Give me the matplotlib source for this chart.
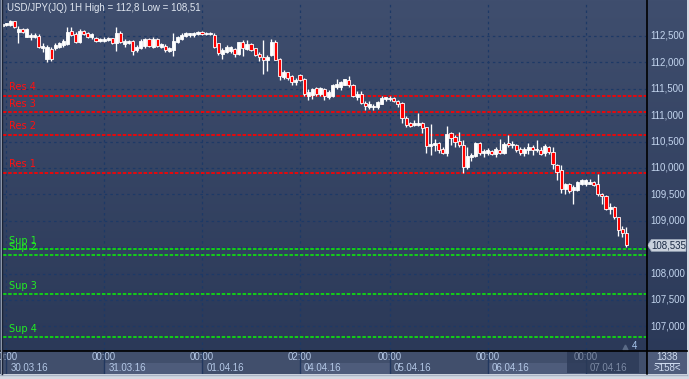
import matplotlib
matplotlib.use("Agg")
import numpy as np
import matplotlib.pyplot as plt
from matplotlib.patches import Rectangle, Polygon

# USD/JPY 1H candles, 29.03.16 23:00 .. 07.04.16 09:00
opens = [112.68, 112.70, 112.70, 112.78, 112.58, 112.63, 112.49, 112.48, 112.49, 112.50,
         112.27, 112.06, 112.25, 112.27, 112.30, 112.33, 112.35, 112.60, 112.53, 112.39,
         112.59, 112.55, 112.48, 112.46, 112.41, 112.41, 112.42, 112.46, 112.36, 112.56,
         112.35, 112.36, 112.40, 112.23, 112.28, 112.31, 112.45, 112.30, 112.45, 112.30,
         112.31, 112.22, 112.23, 112.39, 112.45, 112.50, 112.51, 112.51, 112.53, 112.58,
         112.53, 112.53, 112.52, 112.36, 112.16, 112.20, 112.21, 112.25, 112.15, 112.39,
         112.25, 112.35, 112.27, 112.16, 112.10, 112.05, 112.14, 112.39, 112.07, 111.72,
         111.81, 111.74, 111.63, 111.76, 111.69, 111.37, 111.39, 111.51, 111.41, 111.50,
         111.34, 111.37, 111.53, 111.53, 111.58, 111.66, 111.58, 111.35, 111.40, 111.23,
         111.16, 111.16, 111.15, 111.22, 111.30, 111.30, 111.32, 111.27, 111.23, 110.95,
         110.85, 110.82, 110.82, 110.86, 110.77, 110.41, 110.43, 110.48, 110.36, 110.29,
         110.66, 110.58, 110.52, 110.44, 110.01, 110.20, 110.23, 110.48, 110.29, 110.29,
         110.32, 110.26, 110.35, 110.29, 110.48, 110.43, 110.44, 110.36, 110.29, 110.35,
         110.40, 110.34, 110.34, 110.29, 110.39, 110.31, 110.06, 109.96, 109.61, 109.69,
         109.59, 109.59, 109.70, 109.69, 109.70, 109.73, 109.69, 109.51, 109.47, 109.23,
         109.27, 109.07, 108.85, 108.76]
highs = [112.74, 112.75, 112.80, 112.79, 112.69, 112.65, 112.65, 112.55, 112.56, 112.54,
         112.36, 112.33, 112.30, 112.37, 112.39, 112.44, 112.67, 112.67, 112.58, 112.63,
         112.61, 112.58, 112.56, 112.48, 112.47, 112.48, 112.49, 112.47, 112.67, 112.60,
         112.45, 112.43, 112.42, 112.33, 112.44, 112.46, 112.47, 112.48, 112.47, 112.37,
         112.35, 112.30, 112.55, 112.50, 112.55, 112.58, 112.56, 112.57, 112.59, 112.60,
         112.57, 112.57, 112.55, 112.37, 112.27, 112.33, 112.31, 112.27, 112.39, 112.42,
         112.42, 112.37, 112.28, 112.20, 112.42, 112.14, 112.44, 112.42, 112.09, 111.85,
         111.82, 111.77, 111.70, 111.78, 111.70, 111.50, 111.51, 111.54, 111.54, 111.51,
         111.47, 111.60, 111.68, 111.64, 111.69, 111.74, 111.59, 111.45, 111.46, 111.26,
         111.26, 111.21, 111.26, 111.37, 111.35, 111.36, 111.34, 111.28, 111.25, 110.99,
         110.88, 110.90, 111.04, 110.88, 110.78, 110.83, 110.54, 110.50, 110.40, 110.80,
         110.69, 110.62, 110.68, 110.53, 110.39, 110.29, 110.50, 110.50, 110.36, 110.38,
         110.35, 110.39, 110.55, 110.49, 110.62, 110.52, 110.46, 110.39, 110.39, 110.48,
         110.44, 110.53, 110.39, 110.45, 110.41, 110.40, 110.08, 110.06, 109.72, 109.71,
         109.68, 109.75, 109.80, 109.79, 109.80, 109.75, 109.88, 109.53, 109.49, 109.34,
         109.28, 109.08, 108.91, 108.89]
lows = [112.65, 112.69, 112.68, 112.65, 112.37, 112.56, 112.48, 112.42, 112.46, 112.28,
        112.20, 112.00, 112.03, 112.23, 112.27, 112.30, 112.33, 112.50, 112.37, 112.37,
        112.52, 112.46, 112.44, 112.39, 112.39, 112.39, 112.40, 112.34, 112.22, 112.36,
        112.30, 112.34, 112.14, 112.19, 112.26, 112.28, 112.30, 112.28, 112.30, 112.27,
        112.19, 112.19, 112.12, 112.36, 112.42, 112.48, 112.48, 112.49, 112.51, 112.51,
        112.51, 112.51, 112.27, 112.14, 112.07, 112.18, 112.17, 112.11, 112.14, 112.12,
        112.23, 112.21, 112.12, 112.02, 111.78, 111.83, 112.12, 112.04, 111.66, 111.69,
        111.66, 111.57, 111.57, 111.64, 111.37, 111.28, 111.31, 111.37, 111.37, 111.28,
        111.31, 111.34, 111.50, 111.47, 111.57, 111.53, 111.35, 111.28, 111.21, 111.09,
        111.12, 111.09, 111.12, 111.21, 111.26, 111.26, 111.25, 111.15, 110.86, 110.78,
        110.77, 110.80, 110.80, 110.67, 110.29, 110.25, 110.32, 110.29, 110.26, 110.23,
        110.44, 110.40, 110.40, 109.91, 109.98, 110.13, 110.20, 110.25, 110.20, 110.25,
        110.24, 110.21, 110.26, 110.26, 110.39, 110.38, 110.30, 110.25, 110.23, 110.27,
        110.25, 110.31, 110.25, 110.23, 110.26, 109.98, 109.78, 109.53, 109.51, 109.53,
        109.31, 109.56, 109.68, 109.66, 109.69, 109.66, 109.47, 109.32, 109.21, 109.12,
        109.04, 108.72, 108.70, 108.51]
closes = [112.73, 112.74, 112.79, 112.67, 112.63, 112.58, 112.64, 112.51, 112.52, 112.30,
          112.31, 112.30, 112.06, 112.33, 112.36, 112.40, 112.58, 112.51, 112.39, 112.60,
          112.54, 112.49, 112.54, 112.41, 112.45, 112.45, 112.47, 112.36, 112.56, 112.39,
          112.40, 112.41, 112.22, 112.30, 112.40, 112.44, 112.32, 112.45, 112.32, 112.35,
          112.23, 112.27, 112.40, 112.48, 112.52, 112.55, 112.55, 112.55, 112.58, 112.53,
          112.55, 112.55, 112.30, 112.17, 112.23, 112.29, 112.29, 112.16, 112.38, 112.27,
          112.35, 112.23, 112.14, 112.10, 112.05, 112.11, 112.39, 112.05, 111.74, 111.82,
          111.70, 111.63, 111.67, 111.66, 111.41, 111.44, 111.50, 111.41, 111.51, 111.36,
          111.44, 111.58, 111.59, 111.62, 111.68, 111.57, 111.36, 111.40, 111.23, 111.17,
          111.21, 111.18, 111.25, 111.32, 111.34, 111.32, 111.27, 111.21, 110.95, 110.82,
          110.80, 110.86, 110.86, 110.76, 110.41, 110.46, 110.48, 110.35, 110.29, 110.64,
          110.57, 110.50, 110.43, 110.01, 110.22, 110.24, 110.48, 110.29, 110.32, 110.34,
          110.26, 110.36, 110.29, 110.46, 110.43, 110.46, 110.35, 110.29, 110.36, 110.40,
          110.35, 110.36, 110.27, 110.41, 110.31, 110.07, 109.93, 109.61, 109.69, 109.56,
          109.64, 109.73, 109.78, 109.77, 109.73, 109.68, 109.50, 109.47, 109.23, 109.27,
          109.07, 108.83, 108.76, 108.535]

res_levels = [109.91, 110.63, 111.055, 111.37]
res_names = ["Res 1", "Res 2", "Res 3", "Res 4"]
sup_levels = [108.46, 108.345, 107.605, 106.79]
sup_names = ["Sup 1", "Sup 2", "Sup 3", "Sup 4"]

price_ticks = [107.0, 107.5, 108.0, 108.5, 109.0, 109.5, 110.0, 110.5, 111.0, 111.5, 112.0, 112.5]
tick_labels = ["107,000", "107,500", "108,000", "108,500", "109,000", "109,500",
               "110,000", "110,500", "111,000", "111,500", "112,000", "112,500"]
day_idx = [1, 25, 49, 73, 95, 119, 143]
day_times = ["00:00", "00:00", "00:00", "02:00", "00:00", "00:00", "00:00"]
day_dates = ["30.03.16", "31.03.16", "01.04.16", "04.04.16", "05.04.16", "06.04.16", "07.04.16"]
last_price = 108.535
last_label = "108,535"
header = "USD/JPY(JQ) 1H High = 112,8 Low = 108,51"

W, H = 689, 379
XLIM = (0.22, 157.8)
YLIM = (106.553, 113.125)
SANS = ["Liberation Sans", "DejaVu Sans"]


def box(x0, y0, x1, y1):
    # pixel box (top-left origin) -> figure fraction rect
    return [x0 / W, 1 - y1 / H, (x1 - x0) / W, (y1 - y0) / H]


fig = plt.figure(figsize=(W / 100, H / 100), dpi=100, facecolor="#d3d9e2")

# background gradient for plot + price panel
bg = fig.add_axes(box(0, 0, 687, 374))
grad = np.linspace(0, 1, 256).reshape(-1, 1)
top = np.array([0x3f, 0x4e, 0x6e]) / 255
bot = np.array([0x2a, 0x38, 0x57]) / 255
img = top + (bot - top) * grad[:, :, None]
bg.imshow(img, aspect="auto", extent=(0, 1, 0, 1))
bg.set_axis_off()

ax = fig.add_axes(box(3, 3, 646, 350))
ax.set_facecolor("none")
ax.set_xlim(*XLIM)
ax.set_ylim(*YLIM)
for s in ax.spines.values():
    s.set_visible(False)
ax.set_xticks([])
ax.set_yticks([])

grid_kw = dict(color="#1d3966", lw=0.9, dashes=(2, 2.5), zorder=1)
for p in price_ticks:
    ax.axhline(p, **grid_kw)
for d in day_idx:
    ax.axvline(d, **grid_kw)

for lvl, name in zip(res_levels, res_names):
    ax.axhline(lvl, color="#ff0000", lw=1.25, dashes=(2, 1), zorder=2)
    ax.annotate(name, (1.7, lvl), xytext=(0, 6.2), textcoords="offset points",
                va="center", ha="left", color="#ff1010", fontsize=7, family="DejaVu Sans")
for lvl, name in zip(sup_levels, sup_names):
    ax.axhline(lvl, color="#10e010", lw=1.25, dashes=(2, 1), zorder=2)
    ax.annotate(name, (1.7, lvl), xytext=(0, 6.2), textcoords="offset points",
                va="center", ha="left", color="#22ee22", fontsize=7, family="DejaVu Sans")

# candles
for i, (o, h, l, c) in enumerate(zip(opens, highs, lows, closes)):
    ax.vlines(i, l, h, color="white", lw=0.95, zorder=3)
    lo, hi = min(o, c), max(o, c)
    face = "white" if c >= o else "#ff0000"
    ax.add_patch(Rectangle((i - 0.38, lo), 0.76, max(hi - lo, 0.015),
                           facecolor=face, edgecolor="white", lw=0.6, zorder=4))

ax.text(4 / 643, 1 - 5 / 347, header, transform=ax.transAxes, va="center", ha="left",
        color="#dfe6f0", fontsize=7, family=SANS)
ax.text(631 / 643, 1 - 343 / 347, "4", transform=ax.transAxes, va="center", ha="center",
        color="#a9c8f0", fontsize=7, family=SANS)
ax.plot([622 / 643], [1 - 344 / 347], marker="^", ms=3.5, color="#5a6a86",
        transform=ax.transAxes, clip_on=False)

# price panel on the right
rp = fig.add_axes(box(647, 3, 687, 350))
rp.set_facecolor("none")
rp.set_xlim(0, 1)
rp.set_ylim(*YLIM)
rp.set_axis_off()
for p, lab in zip(price_ticks, tick_labels):
    if abs(p - 108.5) < 0.01:
        continue
    rp.text(0.08, p, lab, va="center", ha="left", color="#c3d5ee", fontsize=7, family=SANS)

# last price marker
yc = 1 - (3 + (YLIM[1] - last_price) / (YLIM[1] - YLIM[0]) * 347) / H
hh = 6 / H
fig.patches.append(Polygon([(647.5 / W, yc), (651.5 / W, yc + hh), (686 / W, yc + hh),
                            (686 / W, yc - hh), (651.5 / W, yc - hh)], closed=True,
                           facecolor="#c9d1dc", edgecolor="#9aa6b8", lw=0.5,
                           transform=fig.transFigure))
fig.text(668.5 / W, yc, last_label, va="center", ha="center", color="#1b2a44",
         fontsize=7, family=SANS)

# time axis
tx = fig.add_axes(box(3, 351, 646, 374))
tx.set_facecolor("#414f6c")
tx.set_xlim(*XLIM)
tx.set_ylim(0, 1)
tx.set_xticks([])
tx.set_yticks([])
for s in tx.spines.values():
    s.set_visible(False)
bounds = day_idx + [XLIM[1]]
for k in range(len(day_idx) - 1):
    if k % 2 == 1:
        tx.add_patch(Rectangle((bounds[k], 0), bounds[k + 1] - bounds[k], 0.5,
                               facecolor="#4e5c7b", lw=0))
for d in day_idx:
    tx.axvline(d, color="#21375f", lw=1)
tx.add_patch(Rectangle((138.5, 0.05), 17.5, 0.95, facecolor="#2c3a57", alpha=0.8, lw=0,
                       zorder=3))
for k, (d, t, dt) in enumerate(zip(day_idx, day_times, day_dates)):
    col = "#7c8aa4" if k == len(day_idx) - 1 else "#b4c8e6"
    tx.text(d, 0.74, t, va="center", ha="center", color=col, fontsize=7,
            family=SANS, zorder=4)
    tx.text(d + 1.0, 0.24, dt, va="center", ha="left", color=col, fontsize=7,
            family=SANS, zorder=4)

# corner box
cb = fig.add_axes(box(647, 351, 687, 374))
cb.set_facecolor("#4e5c7b")
cb.set_xticks([])
cb.set_yticks([])
for s in cb.spines.values():
    s.set_visible(False)
cb.text(0.5, 0.74, "1338", transform=cb.transAxes, ha="center", va="center",
        color="#d0dcf0", fontsize=7, family=SANS)
cb.text(0.5, 0.24, ">158<", transform=cb.transAxes, ha="center", va="center",
        color="#d0dcf0", fontsize=7, family=SANS)
cb.plot([0.2, 0.8], [0.5, 0.5], color="#d0dcf0", lw=0.7, transform=cb.transAxes)

# frame lines
fig.add_artist(plt.Line2D([0, 687 / W], [1 - 350.5 / H] * 2, color="black", lw=1.2,
                          transform=fig.transFigure))
fig.add_artist(plt.Line2D([646.5 / W] * 2, [1 - 374 / H, 1], color="black", lw=1.2,
                          transform=fig.transFigure))
fig.add_artist(plt.Line2D([0, 687 / W], [1 - 374.5 / H] * 2, color="#a9b3c4", lw=1,
                          transform=fig.transFigure))
fig.add_artist(plt.Line2D([0.7 / W] * 2, [1 - 374 / H, 1], color="#aab4c4", lw=1,
                          transform=fig.transFigure))
fig.add_artist(plt.Line2D([2 / W] * 2, [1 - 374 / H, 1], color="#1a2336", lw=1,
                          transform=fig.transFigure))

fig.savefig("out.png", dpi=100, facecolor=fig.get_facecolor())
